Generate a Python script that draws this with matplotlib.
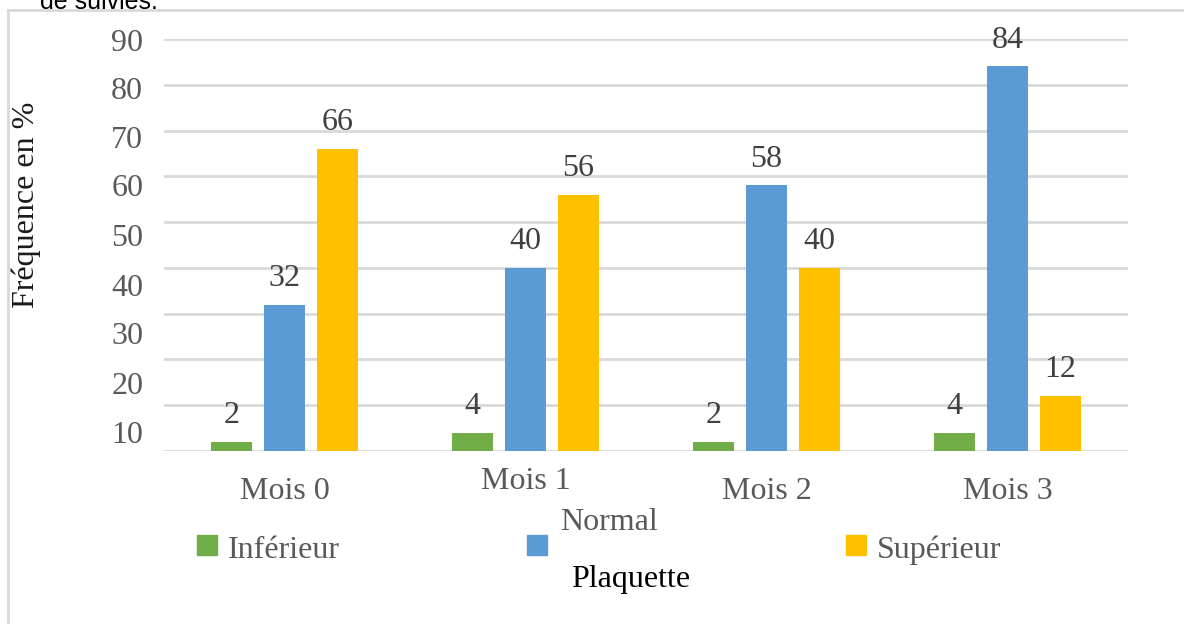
import matplotlib.pyplot as plt
from matplotlib.patches import Rectangle
from matplotlib.lines import Line2D
from matplotlib.transforms import ScaledTranslation
import numpy as np

mois = ["Mois 0", "Mois 1", "Mois 2", "Mois 3"]
series = ["Inférieur", "Normal", "Supérieur"]
inferieur = [2, 4, 2, 4]
normal = [32, 40, 58, 84]
superieur = [66, 56, 40, 12]
ytick_labels = ["90", "80", "70", "60", "50", "40", "30", "20", "10"]
# the scanned labels drift away from the grid, so they sit on their own spots
ytick_pos = [89.8, 79.3, 68.6, 58.1, 47.2, 36.3, 25.8, 14.9, 4.2]

colors = ["#70AD47", "#5B9BD5", "#FFC000"]
grey = "#595959"
fs = 23
plt.rcParams['font.family'] = ['Liberation Serif', 'DejaVu Serif']

fig = plt.figure(figsize=(11.84, 6.24), dpi=100)
ax = fig.add_axes([164/1184, 1-451/624, 964/1184, 412/624])

x = np.arange(len(mois))
w = 0.174
step = 0.22
for i, vals in enumerate([inferieur, normal, superieur]):
    bars = ax.bar(x + (i-1)*step, vals, w, color=colors[i], zorder=3)
    for b, v in zip(bars, vals):
        ax.annotate(str(v), (b.get_x()+b.get_width()/2, v), xytext=(0, 19),
                    textcoords="offset points", ha="center", va="center",
                    fontsize=fs, color="#404040")

ax.set_xlim(-0.5, 3.5)
ax.set_ylim(0, 90)
ax.set_yticks(np.arange(0, 91, 10), minor=True)
ax.set_yticks(ytick_pos)
ax.set_yticklabels(ytick_labels)
ax.grid(True, which="minor", axis="y", color="#d9d9d9", lw=2, zorder=0)
ax.tick_params(axis="y", which="both", length=0, pad=15, labelsize=fs, labelcolor=grey)
ax.set_xticks(x)
ax.set_xticklabels(mois)
ax.tick_params(axis="x", length=0, pad=19, labelsize=fs, labelcolor=grey)
for s in ax.spines.values():
    s.set_visible(False)
# Mois 1 sits higher in the original
lab = ax.get_xticklabels()[1]
lab.set_transform(lab.get_transform() + ScaledTranslation(0, 10/100, fig.dpi_scale_trans))

fig.text(26/1184, 1-205/624, "Fréquence en %", rotation=90, ha="center", va="center",
         fontsize=fs, color="#1a1a1a")

# legend drawn by hand to keep the odd layout
sq = [197, 527, 846]
txt_x = [228, 560, 877]
txt_y = [550, 523, 550]
for i in range(3):
    fig.patches.append(Rectangle((sq[i]/1184, 1-555/624), 20/1184, 20/624,
                                 transform=fig.transFigure, color=colors[i]))
    fig.text(txt_x[i]/1184, 1-txt_y[i]/624, series[i], ha="left", va="center",
             fontsize=fs, color=grey)
fig.text(631/1184, 1-580/624, "Plaquette", ha="center", va="center", fontsize=fs, color="black")

fig.text(40/1184, 1-2/624, "de suivies.", ha="left", va="center", fontsize=18,
         family="Liberation Sans", color="black")

# frame of the chart box
fig.add_artist(Line2D([8/1184, 8/1184], [0, 1-10/624], transform=fig.transFigure,
                      color="#d9d9d9", lw=2))
fig.add_artist(Line2D([8/1184, 1], [1-10/624, 1-10/624], transform=fig.transFigure,
                      color="#d9d9d9", lw=2))

fig.savefig("out.png", dpi=100)
